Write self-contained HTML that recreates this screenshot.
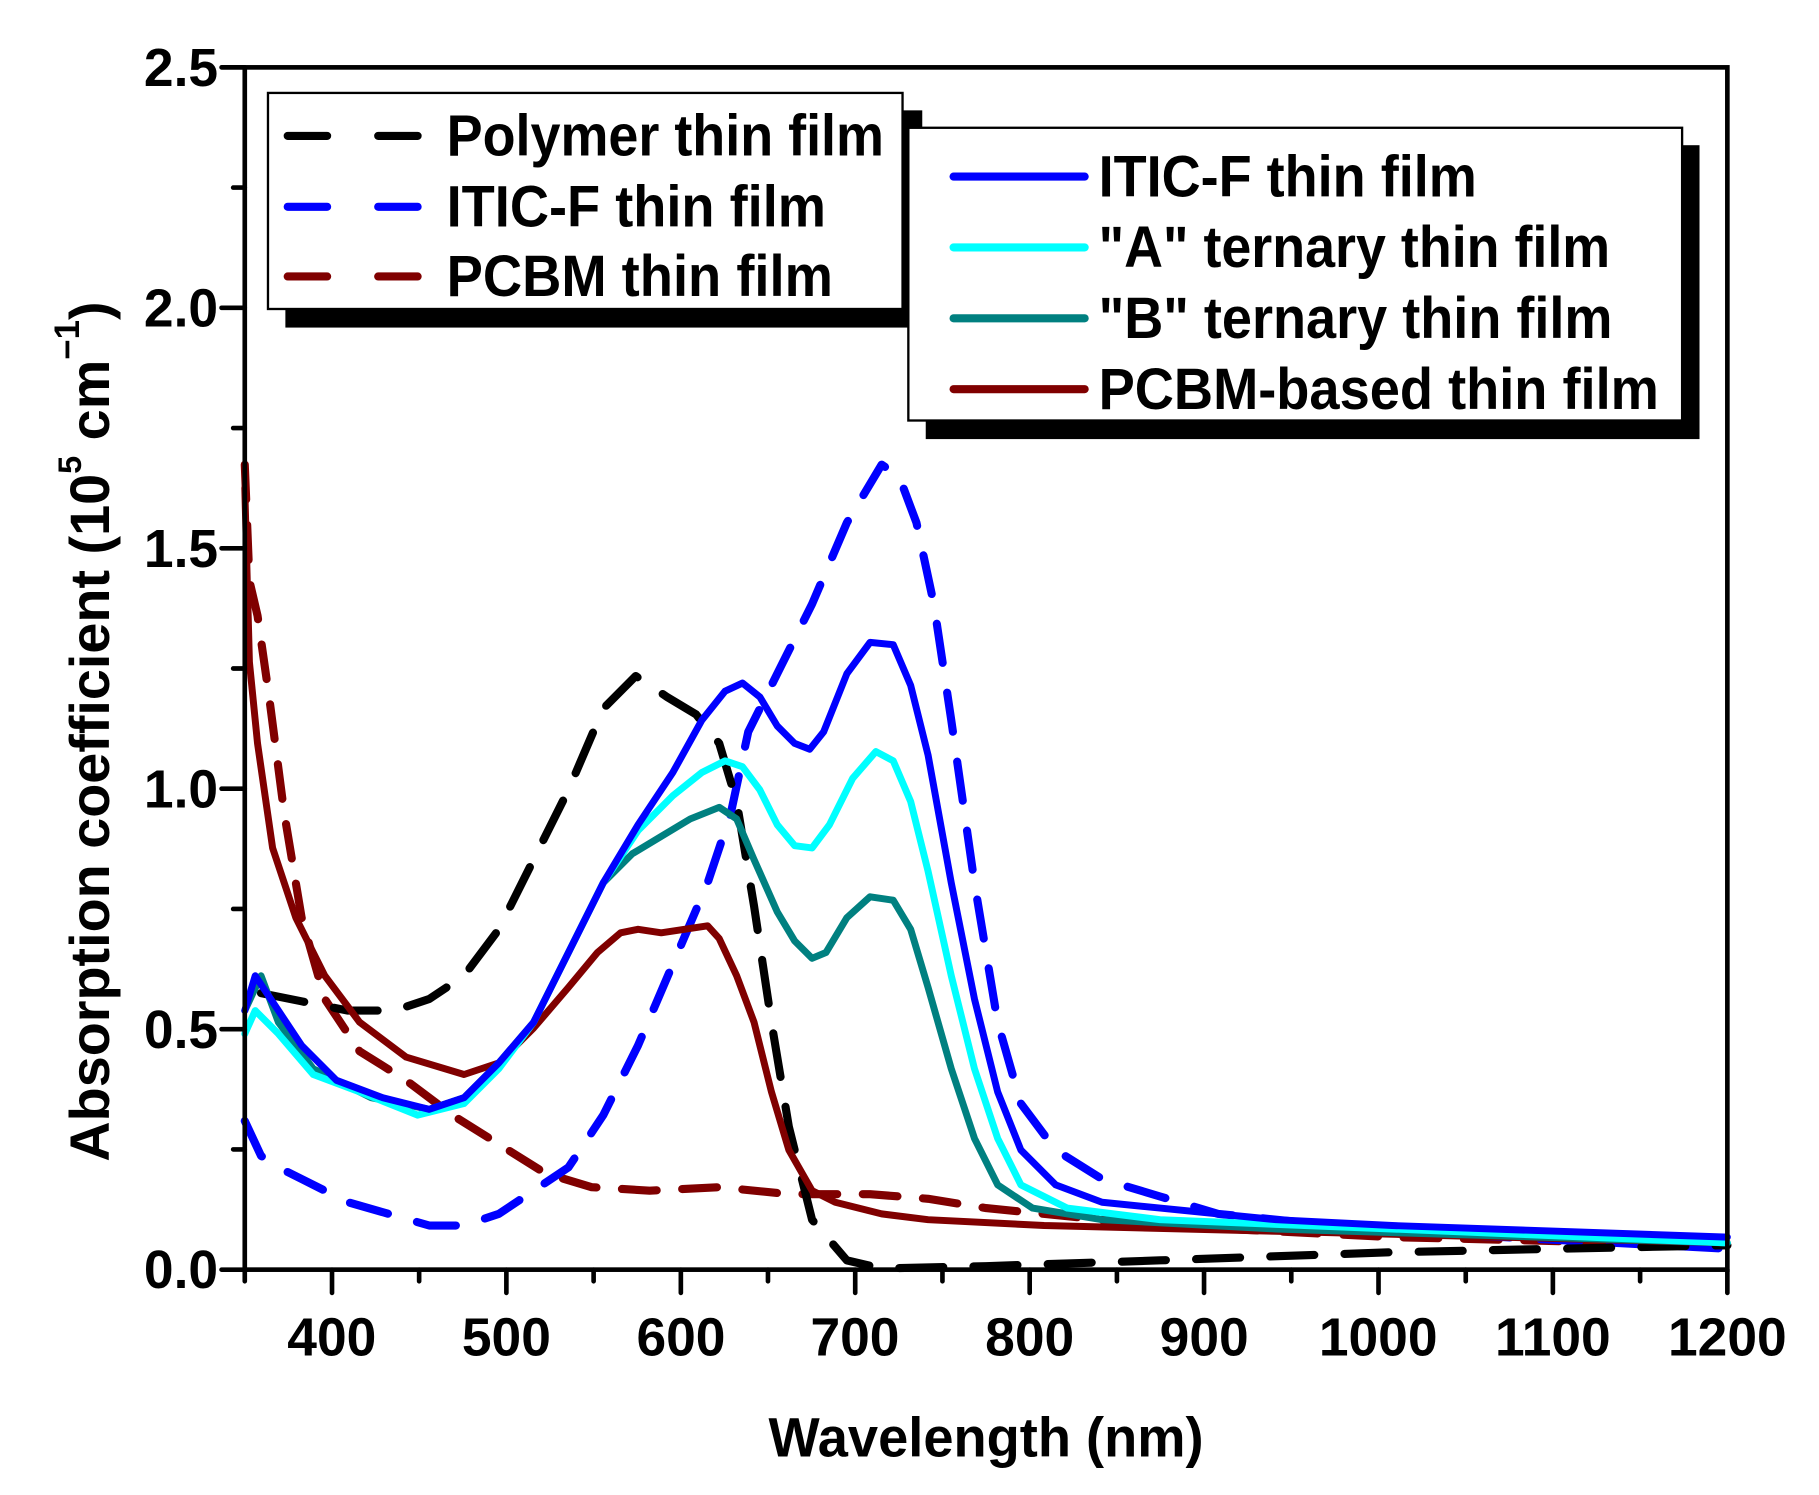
<!DOCTYPE html>
<html><head><meta charset="utf-8"><style>
html,body{margin:0;padding:0;background:#fff;}
svg{display:block;}
text{font-family:"Liberation Sans",Arial,sans-serif;font-weight:bold;fill:#000;}
</style></head><body>
<svg width="1819" height="1495" viewBox="0 0 1568 1287" preserveAspectRatio="none" xmlns="http://www.w3.org/2000/svg">
<rect width="1568" height="1287" fill="#fff"/>
<g fill="none" stroke-linejoin="round" stroke-linecap="round">
<polyline stroke="#800000" stroke-width="7" stroke-dasharray="30,22" points="211,400 215,500 222,530 232,600 245,700 260,790 280,860 310,905 350,930 390,960 430,985 470,1010 510,1022 560,1025 620,1022 680,1028 750,1028 800,1032 850,1040 1000,1055 1200,1065 1489,1072"/>
<polyline stroke="#0000ff" stroke-width="7" stroke-dasharray="34,26" points="211,965 225,995 240,1005 260,1015 300,1035 370,1055 400,1055 430,1045 460,1025 490,1005 520,960 550,900 580,830 610,760 630,700 645,630 670,580 700,520 730,450 760,400 775,410 790,450 805,520 820,620 840,760 860,880 880,950 910,990 950,1015 1000,1030 1050,1045 1200,1060 1489,1075"/>
<polyline stroke="#000" stroke-width="7" stroke-dasharray="38,26" points="225,855 260,862 300,870 340,870 370,860 400,840 430,800 460,740 490,680 520,610 548,582 575,600 600,615 620,640 635,690 650,780 665,880 680,970 700,1050 730,1085 760,1092 850,1090 1000,1085 1200,1078 1489,1072"/>
<polyline stroke="#800000" stroke-width="6" points="211,420 215,570 222,640 235,730 255,790 280,840 310,880 350,910 400,925 430,915 460,885 490,850 515,820 535,803 550,800 570,803 590,800 610,797 620,808 635,840 650,880 665,940 680,990 700,1025 720,1035 760,1045 800,1050 900,1055 1100,1060 1489,1070"/>
<polyline stroke="#008080" stroke-width="6" points="211,870 225,840 240,880 270,920 320,945 370,955 400,945 430,915 460,880 490,820 520,760 545,735 570,720 595,705 620,695 635,705 650,740 670,785 685,810 700,825 712,820 730,790 750,772 770,775 785,800 800,850 820,920 840,980 860,1020 890,1040 950,1050 1100,1058 1489,1070"/>
<polyline stroke="#00ffff" stroke-width="6" points="211,890 220,870 240,890 270,925 310,940 360,960 400,950 430,920 460,880 490,820 520,760 550,715 580,685 605,665 625,655 640,660 655,680 670,710 685,728 700,730 715,710 735,670 755,647 770,655 785,690 800,750 820,840 840,920 860,980 880,1020 920,1040 1000,1050 1200,1058 1489,1070"/>
<polyline stroke="#0000ff" stroke-width="6" points="211,870 220,840 240,870 260,900 290,930 330,945 370,955 400,945 430,915 460,880 490,820 520,760 550,710 580,665 605,620 625,595 640,588 655,600 670,625 685,640 698,645 710,630 730,580 750,553 770,555 785,590 800,650 820,760 840,860 860,940 880,990 910,1020 950,1035 1000,1040 1100,1050 1200,1055 1489,1065"/>
</g>
<rect x="211" y="58" width="1278" height="1035" fill="none" stroke="#000" stroke-width="4"/>
<g stroke="#000" stroke-width="4" stroke-linecap="round">
<line x1="191" y1="1093" x2="211" y2="1093"/><line x1="201" y1="989.5" x2="211" y2="989.5"/>
<line x1="191" y1="886" x2="211" y2="886"/><line x1="201" y1="782.5" x2="211" y2="782.5"/>
<line x1="191" y1="679" x2="211" y2="679"/><line x1="201" y1="575.5" x2="211" y2="575.5"/>
<line x1="191" y1="472" x2="211" y2="472"/><line x1="201" y1="368.5" x2="211" y2="368.5"/>
<line x1="191" y1="265" x2="211" y2="265"/><line x1="201" y1="161.5" x2="211" y2="161.5"/>
<line x1="191" y1="58" x2="211" y2="58"/>
<line x1="211" y1="1093" x2="211" y2="1103"/>
<line x1="286.2" y1="1093" x2="286.2" y2="1113"/><line x1="361.3" y1="1093" x2="361.3" y2="1103"/>
<line x1="436.5" y1="1093" x2="436.5" y2="1113"/><line x1="511.7" y1="1093" x2="511.7" y2="1103"/>
<line x1="586.9" y1="1093" x2="586.9" y2="1113"/><line x1="662" y1="1093" x2="662" y2="1103"/>
<line x1="737.2" y1="1093" x2="737.2" y2="1113"/><line x1="812.4" y1="1093" x2="812.4" y2="1103"/>
<line x1="887.6" y1="1093" x2="887.6" y2="1113"/><line x1="962.8" y1="1093" x2="962.8" y2="1103"/>
<line x1="1037.9" y1="1093" x2="1037.9" y2="1113"/><line x1="1113.1" y1="1093" x2="1113.1" y2="1103"/>
<line x1="1188.3" y1="1093" x2="1188.3" y2="1113"/><line x1="1263.5" y1="1093" x2="1263.5" y2="1103"/>
<line x1="1338.6" y1="1093" x2="1338.6" y2="1113"/><line x1="1413.8" y1="1093" x2="1413.8" y2="1103"/>
<line x1="1489" y1="1093" x2="1489" y2="1113"/>
</g>
<g font-size="46" text-anchor="end">
<text x="188" y="1109">0.0</text><text x="188" y="902">0.5</text><text x="188" y="695">1.0</text>
<text x="188" y="488">1.5</text><text x="188" y="281">2.0</text><text x="188" y="74">2.5</text>
</g>
<g font-size="46" text-anchor="middle">
<text x="286" y="1167">400</text><text x="436.5" y="1167">500</text><text x="587" y="1167">600</text>
<text x="737" y="1167">700</text><text x="887.6" y="1167">800</text><text x="1038" y="1167">900</text>
<text x="1188" y="1167">1000</text><text x="1338.6" y="1167">1100</text><text x="1489" y="1167">1200</text>
</g>
<text x="850" y="1254" font-size="48" text-anchor="middle" textLength="375" lengthAdjust="spacingAndGlyphs">Wavelength (nm)</text>
<text transform="translate(94,1000) rotate(-90)" font-size="48">Absorption coefficient (10<tspan font-size="28" dy="-24">5</tspan><tspan dy="24"> cm</tspan><tspan font-size="30" dy="-26">−1</tspan><tspan dy="26">)</tspan></text>
<rect x="246" y="95" width="549" height="187" fill="#000"/>
<rect x="231" y="80" width="547" height="186" fill="#fff" stroke="#000" stroke-width="2"/>
<g stroke-width="7" stroke-linecap="round" fill="none">
<line x1="248" y1="117" x2="360" y2="117" stroke="#000" stroke-dasharray="34,44"/>
<line x1="248" y1="178" x2="360" y2="178" stroke="#0000ff" stroke-dasharray="34,44"/>
<line x1="248" y1="238" x2="360" y2="238" stroke="#800000" stroke-dasharray="34,44"/>
</g>
<g font-size="50">
<text x="385" y="134" textLength="377" lengthAdjust="spacingAndGlyphs">Polymer thin film</text>
<text x="385" y="195" textLength="327" lengthAdjust="spacingAndGlyphs">ITIC-F thin film</text>
<text x="385" y="255" textLength="333" lengthAdjust="spacingAndGlyphs">PCBM thin film</text>
</g>
<rect x="798" y="125" width="667" height="253" fill="#000"/>
<rect x="783" y="110" width="667" height="252" fill="#fff" stroke="#000" stroke-width="2"/>
<g stroke-width="7" stroke-linecap="round">
<line x1="822" y1="152" x2="935" y2="152" stroke="#0000ff"/>
<line x1="822" y1="213" x2="935" y2="213" stroke="#00ffff"/>
<line x1="822" y1="274" x2="935" y2="274" stroke="#008080"/>
<line x1="822" y1="335" x2="935" y2="335" stroke="#800000"/>
</g>
<g font-size="50">
<text x="947" y="169" textLength="326" lengthAdjust="spacingAndGlyphs">ITIC-F thin film</text>
<text x="947" y="230" textLength="441" lengthAdjust="spacingAndGlyphs">"A" ternary thin film</text>
<text x="947" y="291" textLength="443" lengthAdjust="spacingAndGlyphs">"B" ternary thin film</text>
<text x="947" y="352" textLength="483" lengthAdjust="spacingAndGlyphs">PCBM-based thin film</text>
</g>
</svg>
</body></html>
